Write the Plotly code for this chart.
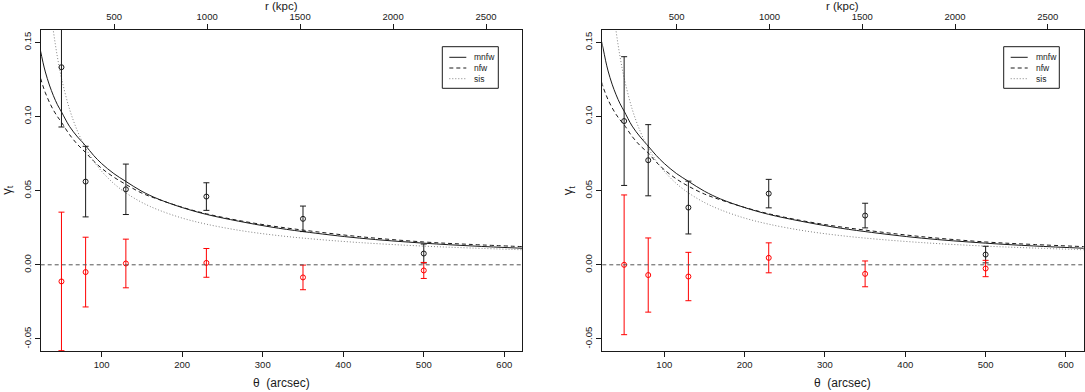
import plotly.graph_objects as go

# ---------------- data ----------------
theta = [50, 80, 130, 230, 350, 500]

# left panel
gt_left = [0.1332, 0.0561, 0.0509, 0.0460, 0.0310, 0.0076]
gt_left_err = [0.0403, 0.0238, 0.0170, 0.0093, 0.0086, 0.0064]
gx_left = [-0.0112, -0.0049, 0.0009, 0.0013, -0.0085, -0.0038]
gx_left_err = [0.0467, 0.0235, 0.0164, 0.0097, 0.0083, 0.0054]

# right panel
gt_right = [0.0969, 0.0705, 0.0386, 0.0480, 0.0332, 0.0069]
gt_right_err = [0.0434, 0.0240, 0.0178, 0.0096, 0.0083, 0.0056]
gx_right = [0.0000, -0.0069, -0.0079, 0.0047, -0.0061, -0.0025]
gx_right_err = [0.0471, 0.0250, 0.0163, 0.0101, 0.0087, 0.0055]

# model curves
theta_model = [22, 24, 27, 30, 35, 40, 45, 50, 60, 70, 80, 90, 100, 115, 130,
               150, 170, 200, 230, 270, 310, 350, 420, 500, 560, 625]
mnfw_left = [0.1490, 0.1442, 0.1366, 0.1300, 0.1212, 0.1140, 0.1079, 0.1031,
             0.0933, 0.0862, 0.0803, 0.0737, 0.0682, 0.0615, 0.0562, 0.0495,
             0.0444, 0.0386, 0.0340, 0.0294, 0.0255, 0.0224, 0.0180, 0.0146,
             0.0127, 0.0111]
nfw_left = [0.1302, 0.1260, 0.1206, 0.1160, 0.1096, 0.1043, 0.0999, 0.0961,
            0.0878, 0.0811, 0.0757, 0.0699, 0.0650, 0.0591, 0.0542, 0.0483,
            0.0442, 0.0388, 0.0344, 0.0299, 0.0263, 0.0234, 0.0190, 0.0154,
            0.0137, 0.0122]
mnfw_right = [0.1505, 0.1455, 0.1375, 0.1307, 0.1218, 0.1146, 0.1085, 0.1036,
              0.0935, 0.0862, 0.0800, 0.0737, 0.0683, 0.0616, 0.0563, 0.0496,
              0.0444, 0.0386, 0.0340, 0.0294, 0.0255, 0.0224, 0.0180, 0.0146,
              0.0127, 0.0111]
nfw_right = [0.1231, 0.1196, 0.1152, 0.1113, 0.1059, 0.1014, 0.0976, 0.0944,
             0.0865, 0.0803, 0.0754, 0.0692, 0.0641, 0.0579, 0.0530, 0.0477,
             0.0438, 0.0387, 0.0344, 0.0299, 0.0263, 0.0234, 0.0190, 0.0154,
             0.0137, 0.0122]
sis = [0.2864, 0.2625, 0.2333, 0.2100, 0.1800, 0.1575, 0.1400, 0.1260,
       0.1050, 0.0900, 0.0788, 0.0700, 0.0630, 0.0548, 0.0485, 0.0420,
       0.0371, 0.0315, 0.0274, 0.0233, 0.0203, 0.0180, 0.0150, 0.0126,
       0.0113, 0.0101]

model_names = ["mnfw", "nfw", "sis"]
x_ticks = [100, 200, 300, 400, 500, 600]
r_ticks = [500, 1000, 1500, 2000, 2500]
y_ticks = [-0.05, 0.0, 0.05, 0.10, 0.15]
y_ticklabels = ["-0.05", "0.00", "0.05", "0.10", "0.15"]
kpc_per_arcsec = 4.33
zero_level = 0.0

# ---------------- styling ----------------
W, H = 1085, 392
FONT = "Liberation Sans, Arial, Helvetica, sans-serif"
INK = "#1a1a1a"
RED = "#ff0000"
STYLES = [
    dict(color=INK, width=1, dash="solid"),
    dict(color=INK, width=1, dash="4px,3px"),
    dict(color="#808080", width=1, dash="1px,2px"),
]


def px(x):
    return x / W


def py(y):
    return 1 - y / H


fig = go.Figure()


def add_panel(xa, ya, top_xa, mnfw, nfw, gt, gt_err, gx, gx_err):
    for name, ys, st in zip(model_names, [mnfw, nfw, sis], STYLES):
        fig.add_trace(go.Scatter(
            x=theta_model, y=ys, mode="lines", name=name, line=st,
            line_shape="spline", xaxis=xa, yaxis=ya, showlegend=False,
            hoverinfo="skip"))
    fig.add_trace(go.Scatter(
        x=theta, y=gt, mode="markers", showlegend=False, xaxis=xa, yaxis=ya,
        marker=dict(symbol="circle-open", size=5, color=INK,
                    line=dict(width=1, color=INK)),
        error_y=dict(type="data", array=gt_err, visible=True, color=INK,
                     thickness=1, width=3)))
    fig.add_trace(go.Scatter(
        x=theta, y=gx, mode="markers", showlegend=False, xaxis=xa, yaxis=ya,
        marker=dict(symbol="circle-open", size=5, color=RED,
                    line=dict(width=1, color=RED)),
        error_y=dict(type="data", array=gx_err, visible=True, color=RED,
                     thickness=1, width=3)))
    # invisible trace to activate the top (kpc) axis
    fig.add_trace(go.Scatter(x=r_ticks, y=[None] * len(r_ticks), mode="markers",
                             showlegend=False, xaxis=top_xa, yaxis=ya,
                             hoverinfo="skip"))
    fig.add_shape(type="line", xref=f"{xa} domain", yref=ya, x0=0, x1=1,
                  y0=zero_level, y1=zero_level,
                  line=dict(color="#555555", width=1, dash="4px,3px"))


add_panel("x", "y", "x2", mnfw_left, nfw_left,
          gt_left, gt_left_err, gx_left, gx_left_err)
add_panel("x3", "y2", "x4", mnfw_right, nfw_right,
          gt_right, gt_right_err, gx_right, gx_right_err)

tickfont = dict(family=FONT, size=9.5, color=INK)
common_x = dict(ticks="outside", ticklen=5, tickcolor=INK, tickwidth=1,
                showgrid=False, zeroline=False, tickfont=tickfont,
                automargin=False)

left_dom = [0.0375, 0.4811]
right_dom = [0.5551, 0.9988]
y_dom = [0.1046, 0.9235]
y_range = [-0.0581, 0.1583]
xl_range = [24.2, 622.0]
xr_range = [22.8, 622.1]

fig.update_layout(
    width=W, height=H, autosize=False,
    margin=dict(l=0, r=0, t=0, b=0),
    paper_bgcolor="white", plot_bgcolor="white",
    template="none",
    font=dict(family=FONT, color=INK),
    showlegend=False,
    xaxis=dict(domain=left_dom, range=xl_range, anchor="y", tickvals=x_ticks,
               showline=True, linecolor=INK, linewidth=1, mirror=True, **common_x),
    xaxis2=dict(overlaying="x", side="top", anchor="y",
                range=[v * kpc_per_arcsec for v in xl_range],
                tickvals=r_ticks, showline=False, **common_x),
    xaxis3=dict(domain=right_dom, range=xr_range, anchor="y2", tickvals=x_ticks,
                showline=True, linecolor=INK, linewidth=1, mirror=True, **common_x),
    xaxis4=dict(overlaying="x3", side="top", anchor="y2",
                range=[v * kpc_per_arcsec for v in xr_range],
                tickvals=r_ticks, showline=False, **common_x),
    yaxis=dict(domain=y_dom, range=y_range, anchor="x", tickvals=y_ticks,
               ticktext=y_ticklabels, tickangle=-90, showline=True,
               linecolor=INK, linewidth=1, mirror=True, **common_x),
    yaxis2=dict(domain=y_dom, range=y_range, anchor="x3", tickvals=y_ticks,
                ticktext=y_ticklabels, tickangle=-90, showline=True,
                linecolor=INK, linewidth=1, mirror=True, **common_x),
)

annots = []
legend_boxes = [(442.3, 498.3), (1003.7, 1059.3)]
for dom, (bx0, bx1) in zip((left_dom, right_dom), legend_boxes):
    cx = (dom[0] + dom[1]) / 2
    annots.append(dict(text="θ  (arcsec)", x=cx, y=py(383), xref="paper",
                       yref="paper", showarrow=False, xanchor="center",
                       yanchor="middle", font=dict(family=FONT, size=12, color=INK)))
    annots.append(dict(text="r (kpc)", x=cx, y=py(6), xref="paper",
                       yref="paper", showarrow=False, xanchor="center",
                       yanchor="middle", font=dict(family=FONT, size=11.5, color=INK)))
    annots.append(dict(text="γ<sub>t</sub>", x=dom[0] - 33 / W, y=py(190),
                       xref="paper", yref="paper", showarrow=False,
                       xanchor="center", yanchor="middle", textangle=-90,
                       font=dict(family=FONT, size=13, color=INK)))
    # legend box (drawn manually to match the compact base-R legend)
    by0, by1 = 46.7, 88.3
    fig.add_shape(type="rect", xref="paper", yref="paper",
                  x0=px(bx0), x1=px(bx1), y0=py(by1), y1=py(by0),
                  line=dict(color=INK, width=1), fillcolor="white", layer="above")
    for i, (name, st) in enumerate(zip(model_names, STYLES)):
        ry = 57.3 + i * 10.7
        fig.add_shape(type="line", xref="paper", yref="paper",
                      x0=px(bx0 + 7), x1=px(bx0 + 24), y0=py(ry), y1=py(ry),
                      line=st, layer="above")
        annots.append(dict(text=name, x=px(bx0 + 30), y=py(ry), xref="paper",
                           yref="paper", showarrow=False, xanchor="left",
                           yanchor="middle",
                           font=dict(family=FONT, size=8.5, color=INK)))
fig.update_layout(annotations=annots)

fig.write_html("out.html", config={"displayModeBar": False},
               post_script="document.body.style.margin='0';")
